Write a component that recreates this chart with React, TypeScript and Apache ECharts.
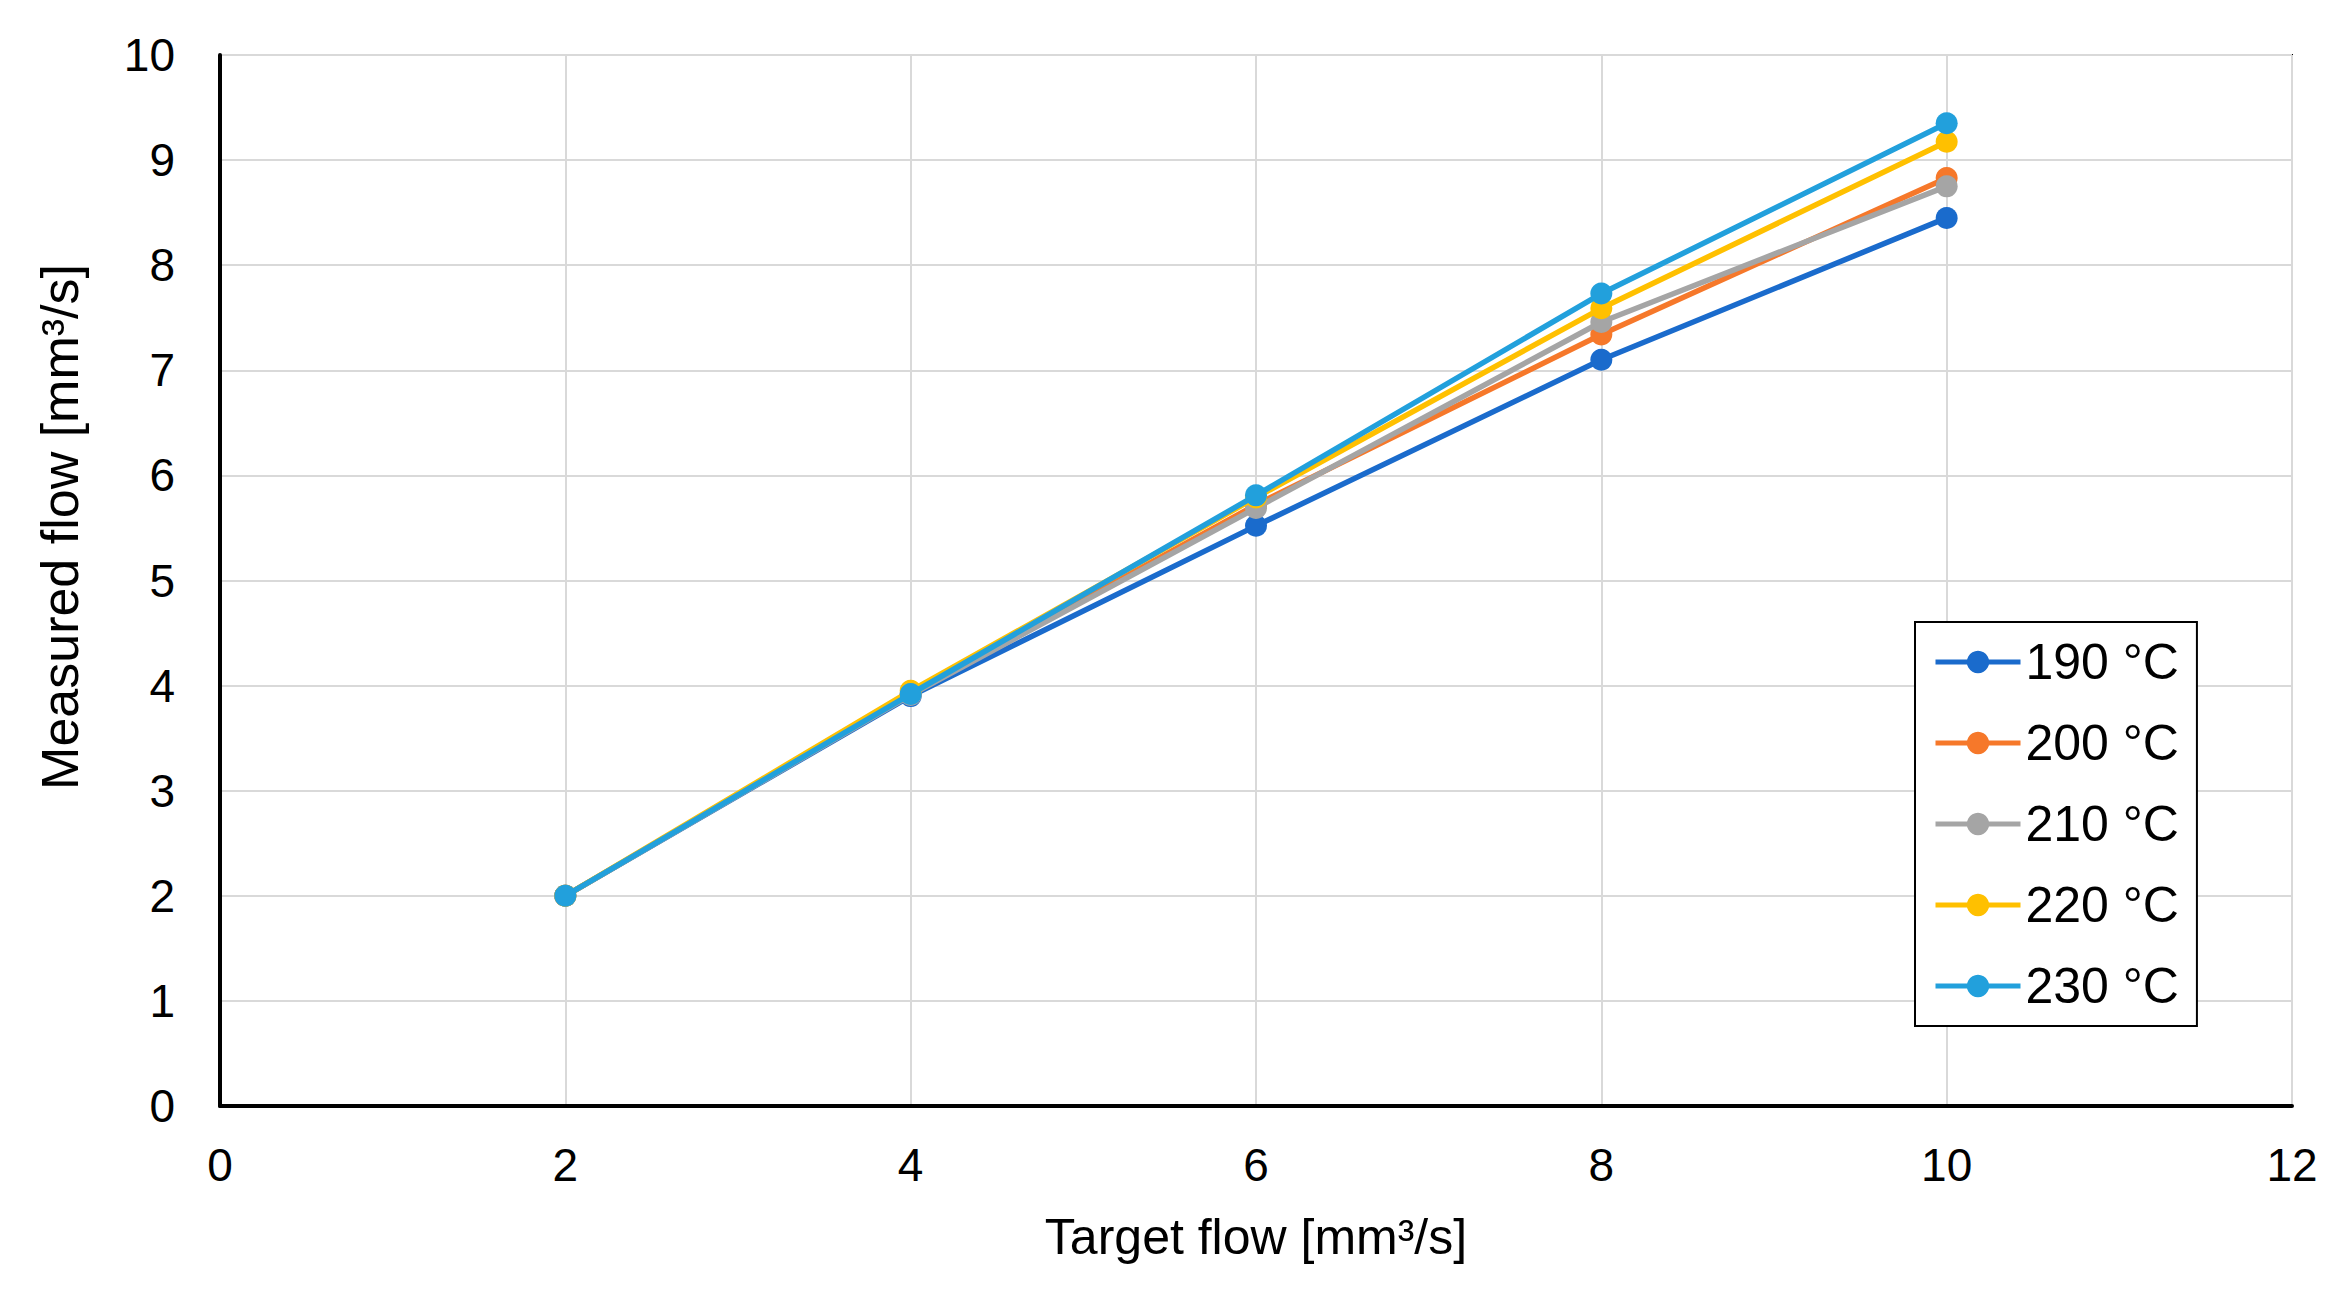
import React, { useEffect, useRef } from "react";
import * as echarts from "echarts";

const targetFlow = [2, 4, 6, 8, 10];
const seriesNames = ["190 °C", "200 °C", "210 °C", "220 °C", "230 °C"];
const flow190 = [2.0, 3.9, 5.52, 7.1, 8.45];
const flow200 = [2.0, 3.92, 5.72, 7.34, 8.83];
const flow210 = [2.0, 3.91, 5.69, 7.46, 8.75];
const flow220 = [2.0, 3.95, 5.79, 7.59, 9.175];
const flow230 = [2.0, 3.92, 5.81, 7.73, 9.35];
const seriesColors = ["#1a6bcc", "#f6782a", "#a5a5a5", "#ffc000", "#22a0dc"];
const xTitle = "Target flow [mm³/s]";
const yTitle = "Measured flow [mm³/s]";

const FONT = "'Liberation Sans', Arial, sans-serif";

export default function App() {
  const ref = useRef<HTMLDivElement>(null);
  useEffect(() => {
    if (!ref.current) return;
    const chart = echarts.init(ref.current, null, { renderer: "svg" });
    const all = [flow190, flow200, flow210, flow220, flow230];
    chart.setOption({
      animation: false,
      backgroundColor: "#ffffff",
      textStyle: { fontFamily: FONT },
      grid: {
        left: 220,
        top: 55,
        right: 54,
        bottom: 194,
        show: true,
        borderColor: "#000",
        borderWidth: 2,
        containLabel: false,
      },
      graphic: [
        {
          type: "text",
          x: 60,
          y: 527,
          rotation: Math.PI / 2,
          style: {
            text: yTitle,
            fontSize: 52,
            fontFamily: FONT,
            fill: "#000",
            align: "center",
            verticalAlign: "middle",
          },
        },
      ],
      legend: {
        orient: "vertical",
        left: 1915,
        top: 622,
        width: 282,
        backgroundColor: "#fff",
        borderColor: "#000",
        borderWidth: 2,
        padding: [13, 18, 13, 18],
        itemGap: 27,
        itemWidth: 85,
        itemHeight: 28,
        lineStyle: { width: 5 },
        textStyle: { fontSize: 50, color: "#000", fontFamily: FONT, lineHeight: 54 },
        data: seriesNames,
      },
      xAxis: {
        type: "value",
        min: 0,
        max: 12,
        interval: 2,
        name: xTitle,
        nameLocation: "middle",
        nameGap: 106,
        nameTextStyle: { fontSize: 50, color: "#000", fontFamily: FONT },
        axisLine: { show: true, onZero: false, lineStyle: { color: "#000", width: 4 } },
        axisTick: { show: false },
        axisLabel: { fontSize: 46, color: "#000", margin: 36, fontFamily: FONT },
        splitLine: { show: true, lineStyle: { color: "#d9d9d9", width: 2 } },
      },
      yAxis: {
        type: "value",
        min: 0,
        max: 10,
        interval: 1,
        axisLine: { show: true, onZero: false, lineStyle: { color: "#000", width: 4 } },
        axisTick: { show: false },
        axisLabel: { fontSize: 46, color: "#000", margin: 45, fontFamily: FONT },
        splitLine: { show: true, lineStyle: { color: "#d9d9d9", width: 2 } },
      },
      series: seriesNames.map((name, i) => ({
        name,
        type: "line",
        data: targetFlow.map((x, j) => [x, all[i][j]]),
        symbol: "circle",
        symbolSize: 22,
        color: seriesColors[i],
        lineStyle: { width: 5.5, color: seriesColors[i] },
        itemStyle: { color: seriesColors[i] },
        z: 2 + i,
      })),
    });
    return () => chart.dispose();
  }, []);
  return (
    <div
      ref={ref}
      style={{ position: "fixed", left: 0, top: 0, width: 2346, height: 1300 }}
    />
  );
}
